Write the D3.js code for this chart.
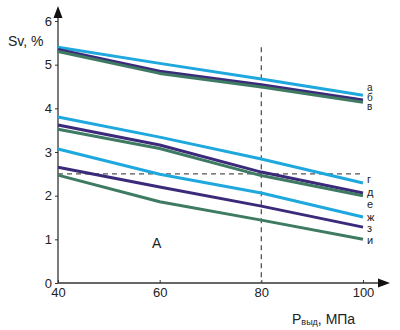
<!DOCTYPE html>
<html><head><meta charset="utf-8">
<script src="https://cdn.jsdelivr.net/npm/d3@7"></script>
<style>body{margin:0;background:#fff}svg{display:block;font-family:Arial,"Liberation Sans",sans-serif}</style>
</head><body><svg id="c" width="400" height="330"></svg>
<script>
const xs = [40, 60, 80, 100];
const xTicks = [40, 60, 80, 100];
const yTicks = [0, 1, 2, 3, 4, 5, 6];
const labels = ["а","б","в","г","д","е","ж","з","и"];
const kinds = ["blue","purple","green","blue","purple","green","blue","purple","green"];
const sA = [5.40, 5.03, 4.67, 4.30];
const sB = [5.35, 4.85, 4.54, 4.19];
const sV = [5.30, 4.80, 4.49, 4.14];
const sG = [3.80, 3.34, 2.84, 2.29];
const sD = [3.62, 3.16, 2.54, 2.06];
const sE = [3.52, 3.08, 2.46, 2.00];
const sZh = [3.07, 2.49, 2.06, 1.51];
const sZ = [2.65, 2.20, 1.76, 1.28];
const sI = [2.47, 1.86, 1.44, 1.00];
const series = [sA, sB, sV, sG, sD, sE, sZh, sZ, sI];
const labelY = [4.47, 4.25, 4.03, 2.37, 2.08, 1.79, 1.51, 1.25, 0.98];
const colors = {blue:"#1ea8dd", purple:"#3b2a7a", green:"#3e7b62"};

const svg = d3.select("#c");
const x = d3.scaleLinear().domain([40,100]).range([58,363]);
const y = d3.scaleLinear().domain([0,6]).range([283,21]);

// axes
const axY = svg.append("g").attr("transform","translate(58,0)")
  .call(d3.axisLeft(y).tickValues(yTicks).tickFormat(d3.format("d")).tickSize(3).tickPadding(3));
axY.select(".domain").remove();
axY.selectAll("text").attr("font-size",13).attr("fill","#222").attr("font-family","Arial, Liberation Sans, sans-serif");
axY.selectAll("line").attr("stroke","#333");
const axX = svg.append("g").attr("transform","translate(0,283)")
  .call(d3.axisBottom(x).tickValues(xTicks).tickFormat(d3.format("d")).tickSize(0).tickPadding(5));
axX.select(".domain").remove();
axX.selectAll("text").attr("font-size",13).attr("fill","#222").attr("font-family","Arial, Liberation Sans, sans-serif");
axX.selectAll(".tick").append("line").attr("y1",-3).attr("y2",0).attr("stroke","#333");

svg.append("line").attr("x1",58).attr("x2",58).attr("y1",283).attr("y2",14).attr("stroke","#333").attr("stroke-width",1.3);
svg.append("path").attr("d","M58,6 L53.5,18 L62.5,18 Z").attr("fill","#111");
svg.append("line").attr("x1",58).attr("x2",382).attr("y1",283).attr("y2",283).attr("stroke","#333").attr("stroke-width",1.3);
svg.append("path").attr("d","M390,283 L378,278.5 L378,287.5 Z").attr("fill","#111");

// dashed reference lines
svg.append("line").attr("x1",x(80)).attr("x2",x(80)).attr("y1",y(5.4)).attr("y2",y(0))
  .attr("stroke","#555").attr("stroke-width",1.3).attr("stroke-dasharray","5,4");
svg.append("line").attr("x1",x(40)).attr("x2",x(99.5)).attr("y1",y(2.5)).attr("y2",y(2.5))
  .attr("stroke","#555").attr("stroke-width",1.3).attr("stroke-dasharray","5,4");

// series
const line = d3.line().x((d,i)=>x(xs[i])).y(d=>y(d));
series.forEach((s,i)=>{
  svg.append("path").attr("d",line(s)).attr("fill","none")
    .attr("stroke",colors[kinds[i]]).attr("stroke-width",3).attr("stroke-linejoin","round");
});
// labels
labels.forEach((l,i)=>{
  svg.append("text").attr("x",367).attr("y",y(labelY[i])).attr("dy","0.32em")
    .attr("font-size",i<3?10:11).attr("fill","#222").text(l);
});

svg.append("text").attr("x",152).attr("y",248).attr("font-size",14).attr("fill","#222").text("A");

const yl = svg.append("text").attr("x",8).attr("y",46).attr("font-size",14).attr("fill","#222");
yl.append("tspan").text("Sv, %");
const xl = svg.append("text").attr("x",292).attr("y",324).attr("font-size",14).attr("fill","#222");
xl.append("tspan").text("P");
xl.append("tspan").attr("font-size",9).attr("dy",1).text("выд");
xl.append("tspan").attr("dy",-1).text(", МПа");
</script></body></html>
